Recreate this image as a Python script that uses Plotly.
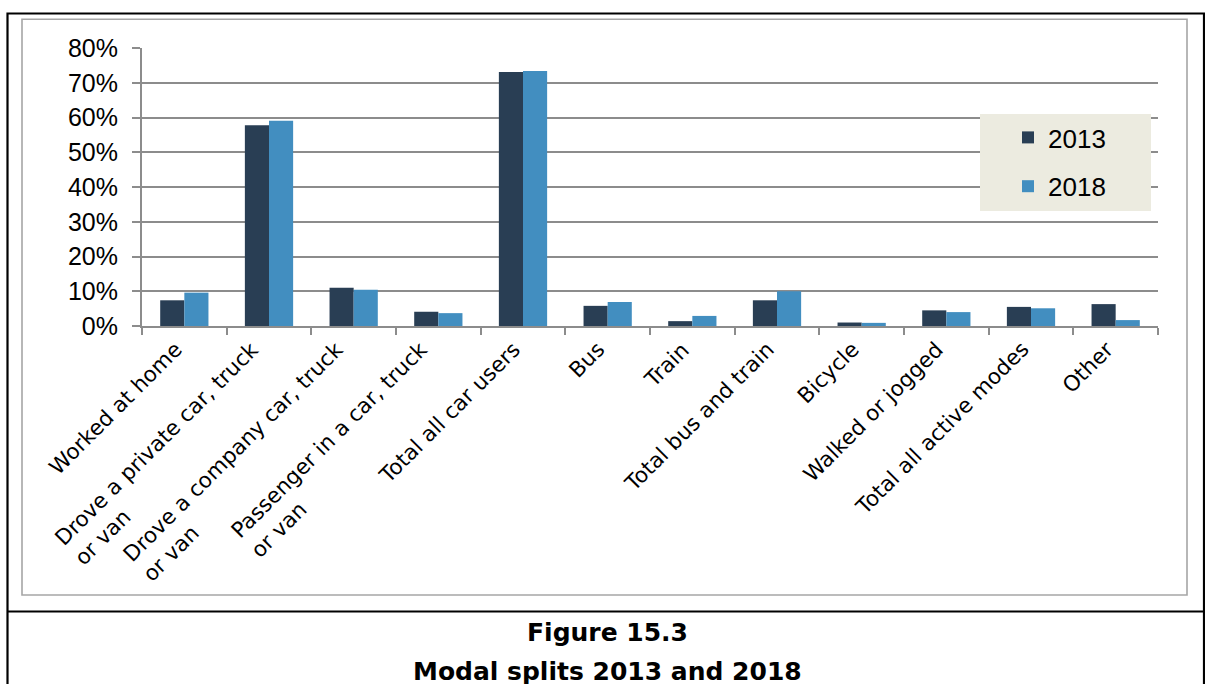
import plotly.graph_objects as go

categories = ["Worked at home", "Drove a private car, truck or van",
              "Drove a company car, truck or van", "Passenger in a car, truck or van",
              "Total all car users", "Bus", "Train", "Total bus and train",
              "Bicycle", "Walked or jogged", "Total all active modes", "Other"]
tick_labels = ["Worked at home", "Drove a private car, truck<br>or van",
               "Drove a company car, truck<br>or van", "Passenger in a car, truck<br>or van",
               "Total all car users", "Bus", "Train", "Total bus and train",
               "Bicycle", "Walked or jogged", "Total all active modes", "Other"]
values_2013 = [7.4, 57.8, 11.0, 4.1, 73.1, 5.8, 1.4, 7.4, 1.0, 4.5, 5.5, 6.3]
values_2018 = [9.6, 59.1, 10.4, 3.7, 73.4, 6.9, 2.9, 10.0, 0.9, 4.0, 5.1, 1.7]
series_names = ["2013", "2018"]
y_ticks = [0, 10, 20, 30, 40, 50, 60, 70, 80]
y_tick_text = ["0%", "10%", "20%", "30%", "40%", "50%", "60%", "70%", "80%"]
caption_lines = ["Figure 15.3", "Modal splits 2013 and 2018"]

C2013 = "#293E54"
C2018 = "#428EC0"
GRID = "#8C8C8C"

W, H = 1205, 684
L, R, T, B = 142, 1158, 48, 326
PW, PH = R - L, B - T

def px(x):
    return (x - L) / PW

def py(y):
    return (B - y) / PH

fig = go.Figure()
fig.add_trace(go.Bar(x=categories, y=values_2013, name=series_names[0],
                     marker=dict(color=C2013, line=dict(width=0)), legendgroup="a"))
fig.add_trace(go.Bar(x=categories, y=values_2018, name=series_names[1],
                     marker=dict(color=C2018, line=dict(width=0)), legendgroup="b"))

shapes = [
    dict(type="rect", xref="paper", yref="paper", x0=px(980), x1=px(1151), y0=py(211), y1=py(114),
         fillcolor="#ECEBE0", line=dict(width=0), layer="above"),
    dict(type="rect", xref="paper", yref="paper", x0=px(22), x1=px(1187), y0=py(595), y1=py(19.3),
         line=dict(color="#A6A6A6", width=1.6), fillcolor="rgba(0,0,0,0)", layer="below"),
    dict(type="rect", xref="paper", yref="paper", x0=px(7.5), x1=px(1204), y0=py(720), y1=py(13.5),
         line=dict(color="black", width=2.2), fillcolor="rgba(0,0,0,0)", layer="below"),
    dict(type="line", xref="paper", yref="paper", x0=px(7.5), x1=px(1204), y0=py(611.5), y1=py(611.5),
         line=dict(color="black", width=2.2)),
]

annotations = []
for cat, lab in zip(categories, tick_labels):
    n_lines = lab.count("<br>") + 1
    annotations.append(dict(x=cat, xref="x", y=0, yref="paper", text=lab, showarrow=False,
                            textangle=-45, xanchor="right", yanchor="top", align="left",
                            xshift=5 + 12 * (n_lines - 1), yshift=-8,
                            font=dict(family="DejaVu Sans", size=21.5, color="black")))
annotations.append(dict(x=px(607), y=py(632), xref="paper", yref="paper", text="<b>%s</b>" % caption_lines[0],
                        showarrow=False, xanchor="center", yanchor="middle",
                        font=dict(family="DejaVu Sans", size=25, color="black")))
annotations.append(dict(x=px(607), y=py(671), xref="paper", yref="paper", text="<b>%s</b>" % caption_lines[1],
                        showarrow=False, xanchor="center", yanchor="middle",
                        font=dict(family="DejaVu Sans", size=25, color="black")))

fig.update_layout(
    width=W, height=H,
    margin=dict(l=L, r=W - R, t=T, b=H - B, pad=0),
    paper_bgcolor="white", plot_bgcolor="white",
    barmode="group", bargap=0.43, bargroupgap=0,
    showlegend=True,
    legend=dict(x=px(1008), y=py(114), xanchor="left", yanchor="top",
                bgcolor="rgba(0,0,0,0)", traceorder="grouped", tracegroupgap=12,
                font=dict(family="Liberation Sans", size=26, color="black")),
    shapes=shapes, annotations=annotations,
)
fig.update_xaxes(range=[-0.5, len(categories) - 0.5], autorange=False,
                 showticklabels=False, showline=True, linecolor=GRID, linewidth=2,
                 ticks="outside", tickson="boundaries", ticklen=7, tickwidth=2, tickcolor=GRID,
                 showgrid=False, zeroline=False)
fig.update_yaxes(range=[0, 80], autorange=False, tickmode="array", tickvals=y_ticks, ticktext=y_tick_text,
                 showgrid=True, gridcolor=GRID,
                 gridwidth=2, showline=True, linecolor=GRID, linewidth=2, zeroline=False,
                 ticks="outside", ticklen=8, tickwidth=2, tickcolor=GRID, ticklabelstandoff=9,
                 tickfont=dict(family="Liberation Sans", size=25, color="black"))

fig.write_html("out.html", config={"displayModeBar": False},
               post_script="document.body.style.margin='0';document.body.style.overflow='hidden';")
